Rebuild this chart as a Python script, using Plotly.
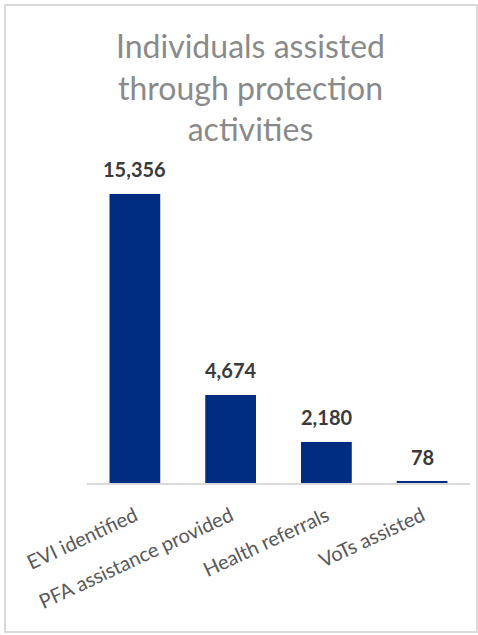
import plotly.graph_objects as go

categories = ["EVI identified", "PFA assistance provided", "Health referrals", "VoTs assisted"]
values = [15356, 4674, 2180, 78]
value_labels = ["15,356", "4,674", "2,180", "78"]
title_text = "Individuals assisted<br>through protection<br>activities"

W, H = 478, 635
ml, mr, mt, mb = 87, 8, 150, 152
pw = W - ml - mr
ph = H - mt - mb

def px_x(x):
    return (x - ml) / pw

def px_y(y):
    return (mt + ph - y) / ph

fig = go.Figure()
fig.add_trace(go.Bar(
    x=categories, y=values,
    marker=dict(color="#002D82", line=dict(width=0)),
    width=0.53,
    hoverinfo="skip",
))

for c, v, t in zip(categories, values, value_labels):
    fig.add_annotation(x=c, y=v, text="<b>%s</b>" % t, showarrow=False,
                       yanchor="bottom", yshift=11,
                       font=dict(family="Lato", size=20, color="#3a3a3a"))

# title
fig.add_annotation(text=title_text, xref="paper", yref="paper",
                   x=px_x(250), y=px_y(24), xanchor="center", yanchor="top",
                   showarrow=False, align="center",
                   font=dict(family="Lato", size=32, color="#8a8a8a"))

# chart border
fig.add_shape(type="rect", xref="paper", yref="paper",
              x0=px_x(5), x1=px_x(477), y0=px_y(632), y1=px_y(5),
              line=dict(color="#d9d9d9", width=2), fillcolor="rgba(0,0,0,0)", layer="below")

fig.update_layout(
    width=W, height=H,
    margin=dict(l=ml, r=mr, t=mt, b=mb),
    paper_bgcolor="white", plot_bgcolor="white",
    showlegend=False,
    xaxis=dict(showline=True, linecolor="#d9d9d9", linewidth=1.5, ticks="",
               tickangle=-25, showgrid=False, ticklabelstandoff=12,
               tickfont=dict(family="Lato", size=20, color="#595959")),
    yaxis=dict(range=[0, 17700], visible=False, showgrid=False),
)

fig.write_html("out.html", config={"displayModeBar": False},
               post_script="document.body.style.margin='0px';document.body.style.overflow='hidden';")
